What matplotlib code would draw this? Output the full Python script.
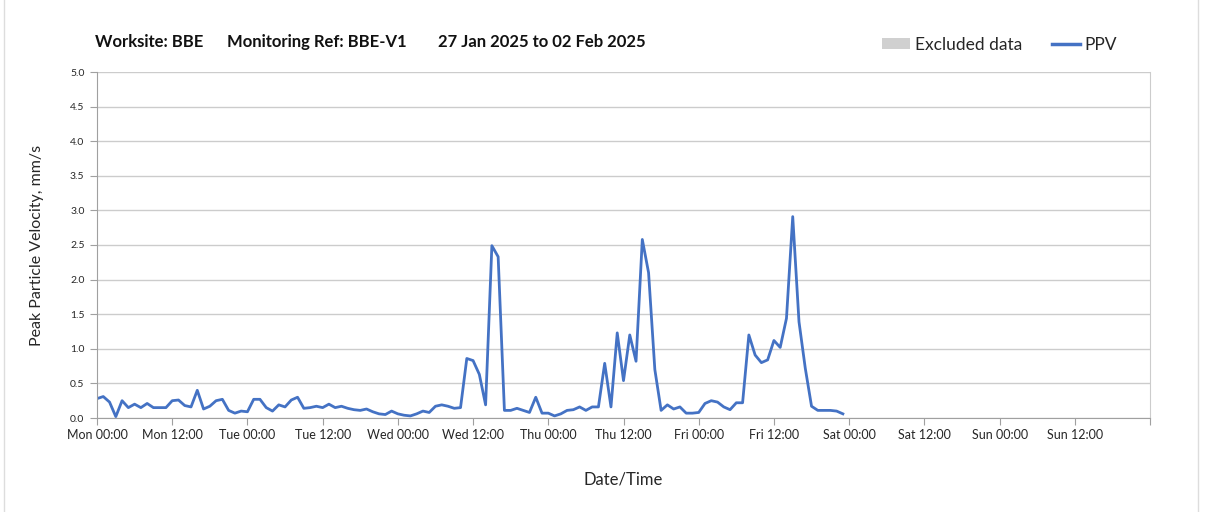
import numpy as np
import pandas as pd
import matplotlib
matplotlib.use("Agg")
import matplotlib.pyplot as plt
import matplotlib.dates as mdates
from matplotlib.lines import Line2D
from matplotlib.patches import Patch, Rectangle

# hourly PPV readings (mm/s), one list per day
mon_ppv = [0.28, 0.31, 0.23, 0.02, 0.25, 0.15, 0.20, 0.15, 0.21, 0.15, 0.15, 0.15,
           0.25, 0.26, 0.18, 0.16, 0.40, 0.13, 0.17, 0.25, 0.27, 0.11, 0.07, 0.10]
tue_ppv = [0.09, 0.27, 0.27, 0.15, 0.10, 0.19, 0.16, 0.26, 0.30, 0.14, 0.15, 0.17,
           0.15, 0.20, 0.15, 0.17, 0.14, 0.12, 0.11, 0.13, 0.09, 0.06, 0.05, 0.10]
wed_ppv = [0.06, 0.04, 0.03, 0.06, 0.10, 0.08, 0.17, 0.19, 0.17, 0.14, 0.15, 0.86,
           0.83, 0.63, 0.19, 2.49, 2.33, 0.11, 0.11, 0.14, 0.11, 0.08, 0.30, 0.07]
thu_ppv = [0.07, 0.03, 0.06, 0.11, 0.12, 0.16, 0.11, 0.16, 0.16, 0.79, 0.16, 1.23,
           0.54, 1.20, 0.82, 2.58, 2.10, 0.70, 0.11, 0.19, 0.13, 0.16, 0.07, 0.07]
fri_ppv = [0.08, 0.21, 0.25, 0.23, 0.16, 0.12, 0.22, 0.22, 1.20, 0.91, 0.80, 0.84,
           1.12, 1.02, 1.44, 2.91, 1.39, 0.72, 0.17, 0.11, 0.11, 0.11, 0.10, 0.06]

ppv = mon_ppv + tue_ppv + wed_ppv + thu_ppv + fri_ppv
times = pd.date_range("2025-01-27 00:00", periods=len(ppv), freq="h")

start = pd.Timestamp("2025-01-27 00:00")
end = pd.Timestamp("2025-02-03 00:00")

title_parts = ["Worksite: BBE", "Monitoring Ref: BBE-V1", "27 Jan 2025 to 02 Feb 2025"]

plt.rcParams["font.family"] = ["Lato", "DejaVu Sans"]

fig = plt.figure(figsize=(12.08, 5.12), dpi=100)
ax = fig.add_axes([97 / 1208, 1 - 418 / 512, (1150 - 97) / 1208, (418 - 72) / 512])

blue = "#4472C4"
grid_c = "#cccccc"

ax.plot(times, ppv, color=blue, lw=2.0, solid_joinstyle="round")

ax.set_xlim(start, end)
ax.set_ylim(0, 5)
ax.set_yticks(np.arange(0, 5.01, 0.5))
ax.yaxis.set_major_formatter(matplotlib.ticker.FormatStrFormatter("%.1f"))

ax.xaxis.set_major_locator(mdates.HourLocator(byhour=[0, 12]))
end_num = mdates.date2num(end)


def fmt_x(v, pos):
    # the closing tick of the week carries no label
    if abs(v - end_num) < 1e-6:
        return ""
    return mdates.num2date(v).strftime("%a %H:%M")


ax.xaxis.set_major_formatter(matplotlib.ticker.FuncFormatter(fmt_x))
ax.xaxis.set_minor_locator(mdates.HourLocator(byhour=[0]))

ax.grid(True, axis="y", color=grid_c, lw=1.0)
ax.grid(True, axis="x", which="minor", color=grid_c, lw=1.0)
ax.set_axisbelow(True)

ax.spines["top"].set_visible(False)
ax.spines["right"].set_color(grid_c)
ax.spines["left"].set_color("#a0a0a0")
ax.spines["bottom"].set_color("#a0a0a0")

ax.tick_params(axis="x", which="major", length=5, color="#a0a0a0",
               labelsize=9, labelcolor="#262626", pad=3)
ax.tick_params(axis="x", which="minor", length=0)
ax.tick_params(axis="y", length=5, color="#a0a0a0", labelsize=7.5,
               labelcolor="#262626", pad=4)

ax.set_xlabel("Date/Time", fontsize=12, color="#262626", labelpad=22)
ax.set_ylabel("Peak Particle Velocity, mm/s", fontsize=11.5, color="#262626", labelpad=19)

# title pieces
title_x = [95, 227, 438]
for px, txt in zip(title_x, title_parts):
    fig.text(px / 1208, 1 - 42 / 512, txt, fontsize=12, fontweight="bold",
             va="center", ha="left", color="#111111")

handles = [Patch(facecolor="#d0d0d0", edgecolor="none", label="Excluded data"),
           Line2D([0], [0], color=blue, lw=2.5, label="PPV")]
fig.legend(handles=handles, loc="center right", bbox_to_anchor=(1133 / 1208, 1 - 45 / 512),
           ncol=2, frameon=False, fontsize=12.5, handlelength=1.6, handleheight=0.6,
           handletextpad=0.3, columnspacing=1.7, labelcolor="#262626")

# outer frame of the chart area
fig.add_artist(Rectangle((4 / 1208, -0.01), (1198 - 4) / 1208, 1.02,
                         transform=fig.transFigure, fill=False,
                         edgecolor="#dddddd", lw=1.0))

fig.savefig("out.png", dpi=100)
